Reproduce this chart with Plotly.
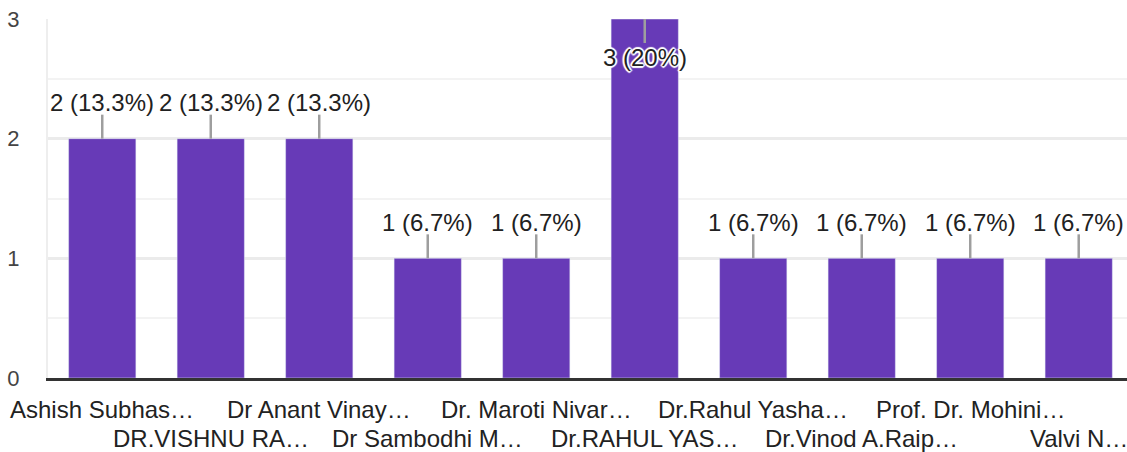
import plotly.graph_objects as go

categories = [
    "Ashish Subhas…", "DR.VISHNU RA…", "Dr Anant Vinay…", "Dr Sambodhi M…",
    "Dr. Maroti Nivar…", "Dr.RAHUL YAS…", "Dr.Rahul Yasha…", "Dr.Vinod A.Raip…",
    "Prof. Dr. Mohini…", "Valvi N…",
]
counts = [2, 2, 2, 1, 1, 3, 1, 1, 1, 1]
percents = ["13.3%", "13.3%", "13.3%", "6.7%", "6.7%", "20%", "6.7%", "6.7%", "6.7%", "6.7%"]

FONT = "Liberation Sans, Arial, sans-serif"
PURPLE = "#673ab7"

xs = list(range(len(categories)))
ymax = max(counts)

fig = go.Figure(
    go.Bar(x=xs, y=counts, marker_color=PURPLE, width=0.62, hoverinfo="skip")
)

halo = ("1px 1px 1px #fff, -1px -1px 1px #fff, 1px -1px 1px #fff, -1px 1px 1px #fff, "
        "0 2px 1px #fff, 0 -2px 1px #fff, 2px 0 1px #fff, -2px 0 1px #fff")

annotations = []
shapes = []
for i, (c, v, p) in enumerate(zip(categories, counts, percents)):
    inside = v == ymax
    # value label with leader line
    annotations.append(dict(
        x=i, y=v, xref="x", yref="y", text=f"{v} ({p})", showarrow=False,
        yanchor="middle", yshift=-38 if inside else 36,
        font=dict(family=FONT, size=24, color="#212121",
                  shadow=halo if inside else "none"),
    ))
    shapes.append(dict(
        type="line", xref="x", yref="y", x0=i, x1=i,
        ysizemode="pixel", yanchor=v, y0=0, y1=-24 if inside else 24,
        line=dict(color="#9e9e9e", width=2.5),
    ))
    # staggered category labels
    annotations.append(dict(
        x=i, y=0, xref="x", yref="paper", text=c, showarrow=False,
        yanchor="middle", yshift=-31 if i % 2 == 0 else -60,
        font=dict(family=FONT, size=24, color="#222222"),
    ))

fig.update_layout(
    width=1127, height=452,
    margin=dict(l=48, r=0, t=19, b=74),
    paper_bgcolor="white", plot_bgcolor="white",
    showlegend=False, hovermode=False,
    annotations=annotations, shapes=shapes,
    xaxis=dict(
        range=[-0.5, 9.445], showticklabels=False, showgrid=False, zeroline=False,
        showline=True, linecolor="#333333", linewidth=3, fixedrange=True,
        automargin=False,
    ),
    yaxis=dict(
        range=[0, 3], dtick=1, showgrid=True, gridcolor="#ebebeb", gridwidth=3,
        minor=dict(dtick=0.5, showgrid=True, gridcolor="#f3f3f3", gridwidth=2),
        zeroline=False, showline=True, linecolor="#eeeeee", linewidth=2,
        ticklabelstandoff=22, tickfont=dict(family=FONT, size=22, color="#444444"),
        fixedrange=True, automargin=False,
    ),
)

# drop the browser's default body margin so the figure sits at the page corner
fig.write_html("out.html", config={"displayModeBar": False},
               post_script="document.body.style.margin = '0';")
